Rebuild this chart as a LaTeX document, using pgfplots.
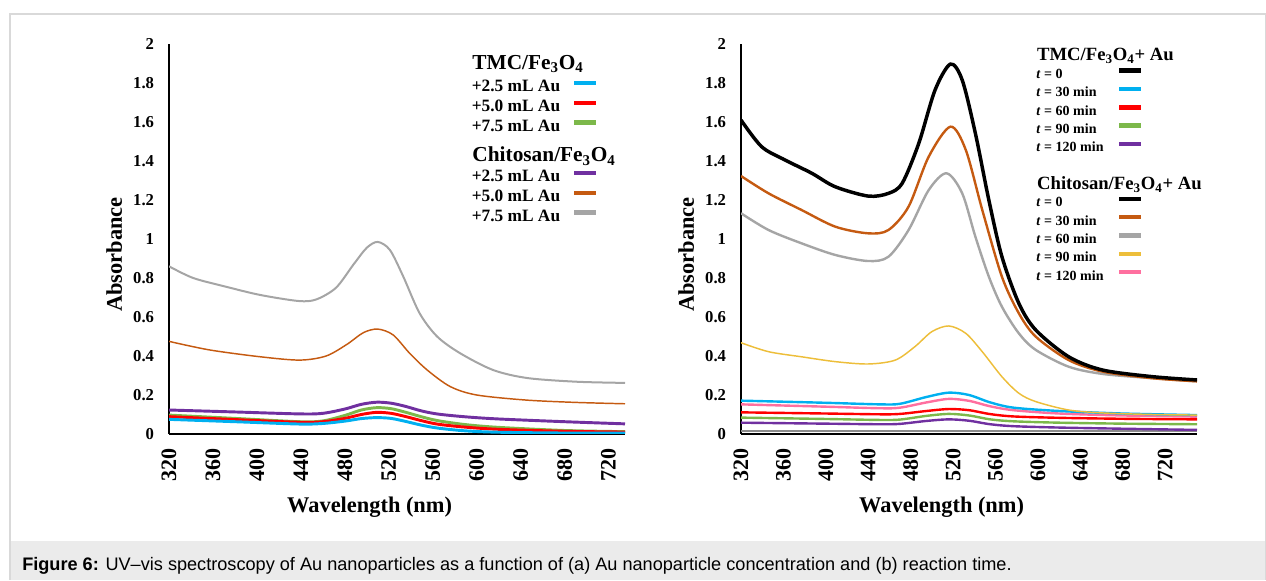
\documentclass[border=0pt]{standalone}
\usepackage{pgfplots}
\pgfplotsset{compat=1.18}
\usepackage{fontspec}
\setmainfont{Liberation Serif}
\newfontfamily\capfont{Liberation Sans}

\definecolor{cBlue}{HTML}{00B0F0}
\definecolor{cRed}{HTML}{FF0000}
\definecolor{cGreen}{HTML}{7CB84A}
\definecolor{cPurple}{HTML}{7030A0}
\definecolor{cOrange}{HTML}{C55A11}
\definecolor{cGray}{HTML}{A5A5A5}
\definecolor{cYellow}{HTML}{EDBE3A}
\definecolor{cPink}{HTML}{FF6F9F}
\definecolor{cBase}{HTML}{8C8C8C}
\definecolor{capbg}{HTML}{EBEBEB}
\definecolor{brd}{HTML}{D9D9D9}

\pgfplotsset{
  uvaxis/.style={
    scale only axis, width=342pt, height=292.5pt,
    xmin=320, ymin=0, ymax=2,
    axis x line*=bottom, axis y line*=left,
    axis line style={-, line width=1.6pt, black},
    xtick={320,360,400,440,480,520,560,600,640,680,720},
    ytick={0,0.2,0.4,0.6,0.8,1,1.2,1.4,1.6,1.8,2},
    major tick length=0pt,
    /pgf/number format/assume math mode=true,
    xticklabel style={font=\bfseries\fontsize{16.5}{18}\selectfont, yshift=-10.5pt, rotate=90, anchor=east, inner sep=0pt},
    yticklabel style={font=\bfseries\fontsize{12.5}{14}\selectfont, anchor=east, inner sep=0pt, xshift=-11pt},
    xlabel={Wavelength (nm)}, ylabel={Absorbance},
    label style={font=\bfseries\fontsize{16.8}{19}\selectfont},
    xlabel style={at={(axis description cs:0.44,-0.187)}, anchor=center},
    ylabel style={at={(axis description cs:-0.12,0.46)}, anchor=center},
    legend cell align=left,
    legend plot pos=right,
    legend image code/.code={\draw[#1, line width=3.4pt] (0pt,3pt) -- (16.2pt,3pt);},
  },
  every axis plot/.append style={smooth, tension=0.5},
}

\begin{document}
\begin{tikzpicture}
\path (0pt,0pt) rectangle (949.5pt,435pt);
\fill[capbg] (7.5pt,0pt) rectangle (949.5pt,29.25pt);
\draw[brd, line width=0.9pt] (7.5pt,0pt) -- (7.5pt,424.5pt) -- (949pt,424.5pt) -- (949pt,0pt);
\node[anchor=base west, inner sep=0pt] at (16.5pt,6.75pt) {\capfont\fontsize{13.6}{15}\selectfont\textbf{Figure 6:} UV–vis spectroscopy of Au nanoparticles as a function of (a) Au nanoparticle concentration and (b) reaction time.};

% ---------------- panel (a)
\begin{axis}[uvaxis, at={(126.75pt,109.5pt)}, anchor=south west, xmax=735,
  legend style={at={(axis description cs:0.664,0.973)}, anchor=north west, draw=none, fill=none,
    inner sep=0pt, outer sep=0pt, row sep=0pt, column sep=8.8pt,
    font=\bfseries\fontsize{13}{15}\selectfont,
    nodes={inner sep=0pt, outer sep=0pt, text height=10.8pt, text depth=4pt}}]
% Chitosan 7.5 (gray)
\addplot[cGray, line width=1.5pt, forget plot] coordinates {(320,0.86)(342,0.80)(372,0.755)(403,0.713)(438,0.682)(454,0.69)(472,0.75)(488,0.87)(500,0.955)(510,0.985)(521,0.944)(533,0.81)(548,0.62)(564,0.50)(585,0.414)(615,0.328)(646,0.287)(691,0.268)(735,0.262)};
% Chitosan 5.0 (orange)
\addplot[cOrange, line width=1.1pt, forget plot] coordinates {(320,0.475)(357,0.431)(403,0.396)(439,0.379)(463,0.40)(482,0.46)(497,0.52)(510,0.538)(524,0.508)(539,0.414)(555,0.328)(576,0.243)(600,0.20)(645,0.174)(690,0.162)(735,0.155)};
% Chitosan 2.5 (purple)
\addplot[cPurple, line width=2.2pt, forget plot] coordinates {(320,0.123)(380,0.113)(439,0.103)(460,0.106)(480,0.128)(495,0.152)(509,0.163)(522,0.158)(535,0.142)(550,0.118)(565,0.102)(590,0.088)(620,0.077)(680,0.063)(735,0.052)};
% TMC 7.5 (green)
\addplot[cGreen, line width=2.2pt, forget plot] coordinates {(320,0.097)(380,0.08)(439,0.063)(460,0.067)(480,0.095)(495,0.123)(509,0.135)(522,0.130)(535,0.112)(550,0.088)(565,0.068)(590,0.048)(620,0.034)(680,0.018)(735,0.012)};
% TMC 5.0 (red)
\addplot[cRed, line width=2.2pt, forget plot] coordinates {(320,0.089)(380,0.074)(439,0.06)(460,0.063)(480,0.08)(495,0.100)(509,0.111)(522,0.106)(535,0.09)(550,0.068)(565,0.05)(590,0.035)(620,0.024)(680,0.014)(735,0.01)};
% TMC 2.5 (blue)
\addplot[cBlue, line width=2.2pt, forget plot] coordinates {(320,0.075)(380,0.063)(439,0.051)(460,0.054)(480,0.066)(495,0.079)(509,0.084)(522,0.080)(535,0.065)(550,0.045)(565,0.03)(590,0.016)(620,0.009)(680,0.005)(735,0.004)};

\addlegendimage{empty legend}
\addlegendentry[text height=11pt, text depth=6pt]{\rlap{\fontsize{16}{18}\selectfont TMC/Fe\textsubscript{3}O\textsubscript{4}}}
\addlegendimage{cBlue}\addlegendentry{+2.5 mL Au}
\addlegendimage{cRed}\addlegendentry{+5.0 mL Au}
\addlegendimage{cGreen}\addlegendentry{+7.5 mL Au}
\addlegendimage{empty legend}
\addlegendentry[text height=19pt, text depth=4.2pt]{\rlap{\fontsize{16}{18}\selectfont Chitosan/Fe\textsubscript{3}O\textsubscript{4}}}
\addlegendimage{cPurple}\addlegendentry{+2.5 mL Au}
\addlegendimage{cOrange}\addlegendentry{+5.0 mL Au}
\addlegendimage{cGray}\addlegendentry{+7.5 mL Au}

\node[font=\bfseries\fontsize{23}{26}\selectfont] at (axis description cs:-0.145,0.964) {(a)};
\end{axis}

% ---------------- panel (b)
\begin{axis}[uvaxis, at={(555.75pt,109.5pt)}, anchor=south west, xmax=750,
  legend style={at={(axis description cs:0.648,0.991)}, anchor=north west, draw=none, fill=none,
    inner sep=0pt, outer sep=0pt, row sep=0pt, column sep=10pt,
    font=\bfseries\fontsize{10.5}{12.5}\selectfont,
    nodes={inner sep=0pt, outer sep=0pt, text height=9.75pt, text depth=4pt}}]
% baseline
\addplot[cBase, line width=1.8pt, forget plot] coordinates {(320,0.015)(750,0.015)};
% t=120 purple
\addplot[cPurple, line width=1.8pt, forget plot] coordinates {(320,0.058)(400,0.053)(451,0.05)(470,0.052)(495,0.067)(516,0.075)(535,0.068)(555,0.05)(577,0.04)(620,0.033)(680,0.027)(750,0.021)};
% t=90 green
\addplot[cGreen, line width=1.8pt, forget plot] coordinates {(320,0.084)(400,0.077)(451,0.072)(470,0.074)(495,0.093)(516,0.103)(535,0.095)(555,0.075)(577,0.065)(620,0.058)(680,0.053)(750,0.05)};
% t=60 red
\addplot[cRed, line width=1.8pt, forget plot] coordinates {(320,0.111)(400,0.105)(451,0.101)(470,0.103)(495,0.118)(516,0.128)(535,0.122)(555,0.102)(577,0.09)(620,0.083)(680,0.078)(750,0.075)};
% chitosan t=120 pink
\addplot[cPink, line width=1.8pt, forget plot] coordinates {(320,0.152)(400,0.14)(451,0.132)(470,0.135)(495,0.162)(516,0.18)(535,0.17)(555,0.142)(577,0.122)(620,0.105)(680,0.095)(750,0.089)};
% t=30 blue
\addplot[cBlue, line width=1.8pt, forget plot] coordinates {(320,0.171)(400,0.16)(451,0.152)(470,0.155)(495,0.19)(516,0.212)(535,0.2)(555,0.162)(577,0.135)(620,0.118)(680,0.105)(750,0.097)};
% chitosan t=90 yellow
\addplot[cYellow, line width=1.1pt, forget plot] coordinates {(320,0.468)(346,0.422)(377,0.396)(409,0.371)(440,0.359)(465.5,0.379)(484,0.448)(500,0.525)(516,0.554)(532,0.516)(547.5,0.422)(566,0.294)(582,0.209)(598,0.166)(629,0.123)(661,0.108)(708,0.10)(750,0.097)};
% chitosan t=60 gray
\addplot[cGray, line width=1.8pt, forget plot] coordinates {(320,1.132)(346,1.046)(377,0.978)(409,0.918)(440,0.887)(459,0.909)(478,1.046)(497,1.251)(513.8,1.337)(528.6,1.234)(541,1.012)(553.7,0.807)(566,0.653)(582,0.516)(598,0.431)(629,0.345)(661,0.308)(708,0.286)(750,0.27)};
% chitosan t=30 orange
\addplot[cOrange, line width=1.8pt, forget plot] coordinates {(320,1.323)(346,1.234)(377,1.149)(409,1.063)(440,1.029)(459,1.046)(478,1.166)(497,1.422)(517.5,1.576)(532,1.456)(547.5,1.149)(566,0.807)(582,0.619)(598,0.499)(629,0.379)(661,0.32)(708,0.286)(750,0.27)};
% t=0 black
\addplot[black, line width=2.6pt, forget plot] coordinates {(320,1.61)(339.5,1.473)(361.6,1.405)(386.8,1.337)(408.8,1.268)(440,1.22)(459,1.234)(472,1.286)(487.6,1.49)(503,1.764)(517.5,1.897)(528.6,1.815)(541,1.542)(553.7,1.2)(566,0.91)(582,0.67)(598,0.533)(629,0.396)(661,0.328)(708,0.294)(750,0.277)};

\addlegendimage{empty legend}
\addlegendentry[text height=10pt, text depth=3.45pt]{\rlap{\fontsize{14}{16}\selectfont TMC/Fe\textsubscript{3}O\textsubscript{4}+ Au}}
\addlegendimage{black}\addlegendentry{\textit{t} = 0}
\addlegendimage{cBlue}\addlegendentry{\textit{t} = 30 min}
\addlegendimage{cRed}\addlegendentry{\textit{t} = 60 min}
\addlegendimage{cGreen}\addlegendentry{\textit{t} = 90 min}
\addlegendimage{cPurple}\addlegendentry{\textit{t} = 120 min}
\addlegendimage{empty legend}
\addlegendentry[text height=24.2pt, text depth=3.25pt]{\rlap{\fontsize{14}{16}\selectfont Chitosan/Fe\textsubscript{3}O\textsubscript{4}+ Au}}
\addlegendimage{black}\addlegendentry{\textit{t} = 0}
\addlegendimage{cOrange}\addlegendentry{\textit{t} = 30 min}
\addlegendimage{cGray}\addlegendentry{\textit{t} = 60 min}
\addlegendimage{cYellow}\addlegendentry{\textit{t} = 90 min}
\addlegendimage{cPink}\addlegendentry{\textit{t} = 120 min}

\node[font=\bfseries\fontsize{23}{26}\selectfont] at (axis description cs:-0.145,0.964) {(b)};
\end{axis}
\end{tikzpicture}
\end{document}
